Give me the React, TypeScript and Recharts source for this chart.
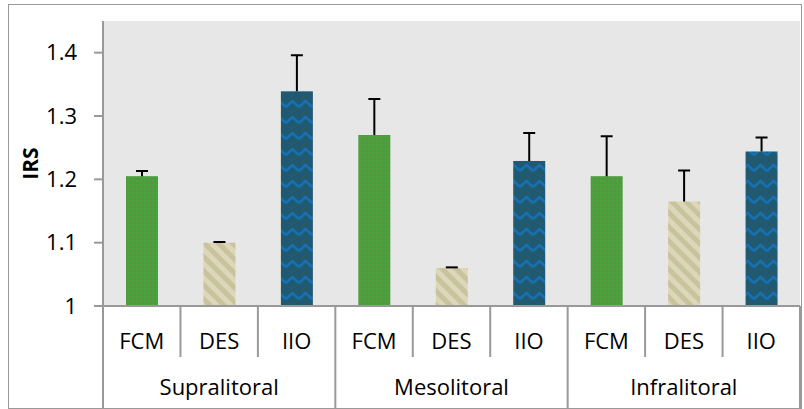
import { Bar, BarChart, CartesianGrid, Cell, XAxis, YAxis } from "recharts";

const groups = ["Supralitoral", "Mesolitoral", "Infralitoral"];
const methods = ["FCM", "DES", "IIO"];
const irsMean = [1.205, 1.1, 1.339, 1.27, 1.06, 1.229, 1.205, 1.165, 1.244];
const irsErr = [0.008, 0.001, 0.057, 0.057, 0.001, 0.044, 0.063, 0.049, 0.022];
const yTicks = [1, 1.1, 1.2, 1.3, 1.4];
const Y_MIN = 1;

const data = groups.flatMap((group, gi) =>
  methods.map((method, mi) => ({
    key: `${group}-${method}`,
    group,
    method,
    irs: irsMean[gi * 3 + mi],
    err: irsErr[gi * 3 + mi],
  }))
);

const W = 804;
const H = 409;
const PLOT_LEFT = 103;
const PLOT_RIGHT = 800;
const BAND = (PLOT_RIGHT - PLOT_LEFT) / data.length;
const FONT = "'Open Sans', 'DejaVu Sans', sans-serif";
const LINE = "#999";

const fills: Record<string, string> = {
  FCM: "url(#pFcm)",
  DES: "url(#pDes)",
  IIO: "url(#pIio)",
};

// bar rect + upper whisker only (reference has no lower half)
const BarWithError = (props: any) => {
  const { x, y, width, height, payload } = props;
  const perUnit = height / (payload.irs - Y_MIN);
  const top = y - payload.err * perUnit;
  const cx = x + width / 2;
  return (
    <g>
      <rect x={x} y={y} width={width} height={height} fill={fills[payload.method]} />
      <line x1={cx} y1={y} x2={cx} y2={top} stroke="#000" strokeWidth={2} />
      <line x1={cx - 6} y1={top} x2={cx + 6} y2={top} stroke="#000" strokeWidth={2} />
    </g>
  );
};

const CategoryTick = (props: any) => {
  const { x, y, index } = props;
  const row = data[index];
  const left = x - BAND / 2;
  const isGroupStart = index % 3 === 0;
  const isLast = index === data.length - 1;
  return (
    <g>
      <line
        x1={left}
        y1={y}
        x2={left}
        y2={isGroupStart ? H - 1 : y + 51}
        stroke={LINE}
        strokeWidth={2}
      />
      {isLast && (
        <line x1={x + BAND / 2} y1={y} x2={x + BAND / 2} y2={H - 1} stroke={LINE} strokeWidth={2} />
      )}
      <text x={x} y={y + 43} textAnchor="middle" fontSize={22} fontFamily={FONT} fill="#000">
        {row.method}
      </text>
      {index % 3 === 1 && (
        <text x={x} y={y + 89} textAnchor="middle" fontSize={22} fontFamily={FONT} fill="#000">
          {row.group}
        </text>
      )}
    </g>
  );
};

const IrsLabel = (props: any) => {
  const { viewBox } = props;
  const cx = 30;
  const cy = viewBox.y + viewBox.height / 2;
  return (
    <text
      x={cx}
      y={cy}
      transform={`rotate(-90, ${cx}, ${cy})`}
      textAnchor="middle"
      dominantBaseline="central"
      fontSize={21}
      fontWeight="bold"
      fontFamily={FONT}
      fill="#000"
    >
      IRS
    </text>
  );
};

export default function App() {
  return (
    <div style={{ position: "absolute", left: 0, top: 0, width: W, height: H, background: "#fff" }}>
      <div
        style={{
          position: "absolute",
          left: 8,
          top: 4,
          width: 792,
          height: 403,
          border: `1.5px solid ${LINE}`,
        }}
      />
      <div style={{ position: "absolute", left: 0, top: 0 }}>
        <BarChart
          width={W}
          height={H}
          data={data}
          margin={{ top: 21, right: W - PLOT_RIGHT, bottom: 0, left: 0 }}
          barSize={32}
        >
          <defs>
            <pattern id="pFcm" width={4} height={4} patternUnits="userSpaceOnUse">
              <rect width={4} height={4} fill="#5f943a" />
              <rect width={2} height={2} fill="#3aab45" />
              <rect x={2} y={2} width={2} height={2} fill="#44a23e" />
            </pattern>
            <pattern
              id="pDes"
              width={10}
              height={10}
              patternUnits="userSpaceOnUse"
              patternTransform="rotate(-45)"
            >
              <rect width={10} height={10} fill="#dcd7b8" />
              <rect width={5} height={10} fill="#c8c29d" />
            </pattern>
            <pattern id="pIio" width={13} height={16} patternUnits="userSpaceOnUse">
              <rect width={13} height={16} fill="#215a70" />
              <path d="M0 11 L6.5 5 L13 11" fill="none" stroke="#1670b4" strokeWidth={2.5} />
            </pattern>
          </defs>
          <CartesianGrid fill="#e7e7e7" horizontal={false} vertical={false} stroke="none" />
          <YAxis
            type="number"
            domain={[Y_MIN, 1.45]}
            ticks={yTicks}
            width={PLOT_LEFT}
            axisLine={{ stroke: LINE, strokeWidth: 2 }}
            tickLine={{ stroke: LINE, strokeWidth: 2 }}
            tickSize={9}
            tickMargin={17}
            tick={{ fill: "#000", fontSize: 22, fontFamily: FONT }}
            label={<IrsLabel />}
            allowDataOverflow
          />
          <XAxis
            dataKey="key"
            height={H - 306}
            axisLine={{ stroke: LINE, strokeWidth: 2 }}
            tickLine={false}
            tickSize={0}
            tickMargin={0}
            interval={0}
            tick={<CategoryTick />}
          />
          <Bar dataKey="irs" isAnimationActive={false} shape={<BarWithError />}>
            {data.map((d) => (
              <Cell key={d.key} fill={fills[d.method]} />
            ))}
          </Bar>
        </BarChart>
      </div>
    </div>
  );
}
